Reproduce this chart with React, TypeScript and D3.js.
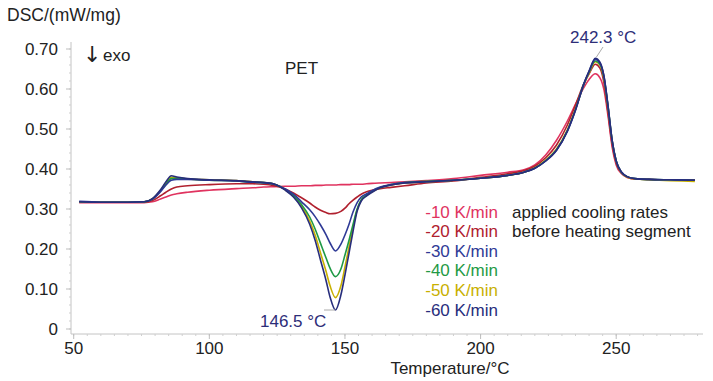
import React from "react";
import * as d3 from "d3";

const temps = [52, 60, 70, 76, 79, 82, 84, 86, 88, 92, 100, 110, 116, 120, 124, 128, 131, 134, 137, 139, 141, 143, 144.5, 146.5, 148.5, 150, 151.5, 153, 154.5, 156, 158, 160, 163, 167, 172, 180, 190, 200, 210, 216, 220, 224, 228, 232, 235, 238, 240, 242.3, 244, 245.5, 247, 248.5, 250, 252, 254, 257, 262, 270, 279];

const rate10 = [0.316, 0.316, 0.316, 0.316, 0.318, 0.325, 0.330, 0.335, 0.338, 0.342, 0.347, 0.351, 0.353, 0.355,
  0.356, 0.357, 0.357, 0.358, 0.358, 0.359, 0.359, 0.360, 0.360, 0.360, 0.361, 0.361, 0.361, 0.362, 0.362, 0.362, 0.363, 0.364, 0.365, 0.366, 0.368,
  0.371, 0.376, 0.384, 0.392, 0.398, 0.410, 0.435, 0.472, 0.520, 0.562, 0.603, 0.624, 0.638, 0.628, 0.598, 0.532, 0.455, 0.410, 0.388, 0.379, 0.375, 0.374, 0.373, 0.373];

const rate20 = [0.318, 0.317, 0.317, 0.317, 0.321, 0.333, 0.342, 0.350, 0.355, 0.358, 0.361, 0.363, 0.363, 0.362,
  0.358, 0.350, 0.340, 0.328, 0.315, 0.305, 0.297, 0.291, 0.288, 0.289, 0.294, 0.302, 0.313, 0.322, 0.330, 0.337, 0.343, 0.347, 0.351, 0.354, 0.358,
  0.365, 0.370, 0.379, 0.388, 0.396, 0.407, 0.428, 0.460, 0.510, 0.560, 0.612, 0.638, 0.662, 0.652, 0.615, 0.540, 0.462, 0.415, 0.390, 0.380, 0.375, 0.374, 0.373, 0.373];

const rate30 = [0.319, 0.317, 0.317, 0.318, 0.324, 0.343, 0.360, 0.372, 0.374, 0.374, 0.372, 0.370, 0.367, 0.366,
  0.362, 0.350, 0.337, 0.318, 0.298, 0.281, 0.260, 0.236, 0.215, 0.195, 0.212, 0.235, 0.262, 0.293, 0.316, 0.330, 0.338, 0.346, 0.355, 0.361, 0.366,
  0.368, 0.372, 0.377, 0.384, 0.392, 0.402, 0.420, 0.447, 0.494, 0.547, 0.611, 0.644, 0.674, 0.665, 0.631, 0.556, 0.471, 0.420, 0.392, 0.381, 0.376, 0.374, 0.373, 0.372];

const rate40 = [0.318, 0.317, 0.317, 0.318, 0.325, 0.345, 0.362, 0.376, 0.377, 0.375, 0.372, 0.370, 0.367, 0.366,
  0.362, 0.349, 0.334, 0.311, 0.280, 0.250, 0.214, 0.178, 0.152, 0.131, 0.150, 0.185, 0.222, 0.262, 0.300, 0.323, 0.335, 0.344, 0.354, 0.361, 0.366,
  0.369, 0.372, 0.377, 0.384, 0.392, 0.402, 0.421, 0.448, 0.496, 0.549, 0.611, 0.642, 0.670, 0.662, 0.628, 0.555, 0.471, 0.420, 0.391, 0.381, 0.376, 0.374, 0.373, 0.372];

const rate50 = [0.318, 0.317, 0.317, 0.318, 0.325, 0.346, 0.365, 0.379, 0.378, 0.375, 0.373, 0.371, 0.368, 0.366,
  0.362, 0.348, 0.332, 0.307, 0.270, 0.235, 0.190, 0.145, 0.108, 0.0785, 0.108, 0.155, 0.205, 0.255, 0.298, 0.322, 0.334, 0.343, 0.353, 0.360, 0.365,
  0.368, 0.372, 0.377, 0.384, 0.392, 0.403, 0.422, 0.450, 0.498, 0.550, 0.610, 0.640, 0.668, 0.660, 0.626, 0.553, 0.470, 0.419, 0.391, 0.380, 0.375, 0.373, 0.371, 0.369];

const rate60 = [0.318, 0.317, 0.317, 0.318, 0.326, 0.348, 0.368, 0.383, 0.380, 0.376, 0.373, 0.371, 0.368, 0.366,
  0.362, 0.347, 0.330, 0.303, 0.262, 0.222, 0.172, 0.122, 0.080, 0.0475, 0.085, 0.135, 0.190, 0.245, 0.295, 0.320, 0.333, 0.342, 0.353, 0.360, 0.365,
  0.368, 0.372, 0.377, 0.384, 0.392, 0.402, 0.420, 0.447, 0.495, 0.548, 0.612, 0.645, 0.677, 0.667, 0.632, 0.557, 0.472, 0.420, 0.392, 0.381, 0.376, 0.374, 0.373, 0.372];

const seriesLabels = ["-10 K/min", "-20 K/min", "-30 K/min", "-40 K/min", "-50 K/min", "-60 K/min"];
const seriesColors = ["#e0335f", "#b0202e", "#2f3a96", "#1f9a45", "#c8b000", "#272d7c"];
const seriesValues = [rate10, rate20, rate30, rate40, rate50, rate60];

const xTicks = [50, 100, 150, 200, 250];
const yTicks = [0, 0.1, 0.2, 0.3, 0.4, 0.5, 0.6, 0.7];
const yTickLabels = ["0", "0.10", "0.20", "0.30", "0.40", "0.50", "0.60", "0.70"];

const FONT = "'Liberation Sans', Arial, sans-serif";

export default function App() {
  const x = d3.scaleLinear().domain([49, 282]).range([71, 703]);
  const y = d3.scaleLinear().domain([-0.0125, 0.7175]).range([334, 42]);

  const line = d3
    .line<number>()
    .x((_, i) => x(temps[i]))
    .y((d) => y(d))
    .curve(d3.curveMonotoneX);

  const xMinor = d3.range(50, 281, 5);
  const yMinor = d3.range(0, 0.71, 0.02);

  const drawOrder = [0, 1, 4, 3, 2, 5];

  return (
    <svg
      width={713}
      height={381}
      style={{ position: "absolute", left: 0, top: 0, background: "#fff" }}
      fontFamily={FONT}
    >
      <rect x={0} y={0} width={713} height={381} fill="#fff" />
      {/* axes */}
      <line x1={71} y1={42} x2={71} y2={334} stroke="#c4c4c4" strokeWidth={1} />
      <line x1={71} y1={334} x2={703} y2={334} stroke="#c4c4c4" strokeWidth={1} />
      {yMinor.map((v, i) => (
        <line key={"ym" + i} x1={69} x2={71} y1={y(v)} y2={y(v)} stroke="#cfcfcf" />
      ))}
      {xMinor.map((v, i) => (
        <line key={"xm" + i} x1={x(v)} x2={x(v)} y1={334} y2={336} stroke="#cfcfcf" />
      ))}
      {yTicks.map((v, i) => (
        <g key={"yt" + i}>
          <line x1={66} x2={71} y1={y(v)} y2={y(v)} stroke="#bdbdbd" />
          <text x={58} y={y(v)} dy="0.36em" textAnchor="end" fontSize={17} fill="#222">
            {yTickLabels[i]}
          </text>
        </g>
      ))}
      {xTicks.map((v, i) => (
        <g key={"xt" + i}>
          <line x1={x(v)} x2={x(v)} y1={334} y2={339} stroke="#bdbdbd" />
          <text x={x(v)} y={354} textAnchor="middle" fontSize={17} fill="#222">
            {v}
          </text>
        </g>
      ))}
      <text x={7} y={21} fontSize={17.5} fill="#222">DSC/(mW/mg)</text>
      <text x={450} y={374} textAnchor="middle" fontSize={17} fill="#222">Temperature/°C</text>
      <text x={83} y={62} fontSize={22} fill="#222" fontFamily="'DejaVu Sans', sans-serif">↓</text>
      <text x={103} y={61} fontSize={17} fill="#222">exo</text>
      <text x={285} y={74} fontSize={17} fill="#222">PET</text>

      {/* curves */}
      {drawOrder.map((k) => (
        <path
          key={"s" + k}
          d={line(seriesValues[k]) || ""}
          fill="none"
          stroke={seriesColors[k]}
          strokeWidth={1.6}
          strokeLinejoin="round"
        />
      ))}

      {/* annotations */}
      <line x1={603} y1={47} x2={x(242.3) + 1} y2={y(0.677) - 1} stroke="#aaa" strokeWidth={1} />
      <text x={570} y={43} fontSize={17} fill="#2d2d78">242.3 °C</text>
      <line x1={324} y1={y(0.0475)} x2={x(146.5)} y2={y(0.0475)} stroke="#aaa" strokeWidth={1} />
      <text x={260} y={327} fontSize={17} fill="#2d2d78">146.5 °C</text>

      {/* legend */}
      {seriesLabels.map((s, i) => (
        <text key={"lg" + i} x={498} y={217.5 + i * 19.6} textAnchor="end" fontSize={17} fill={seriesColors[i]}>
          {s}
        </text>
      ))}
      <text x={512} y={217.5} fontSize={17} fill="#222">applied cooling rates</text>
      <text x={512} y={237.1} fontSize={17} fill="#222">before heating segment</text>
    </svg>
  );
}
